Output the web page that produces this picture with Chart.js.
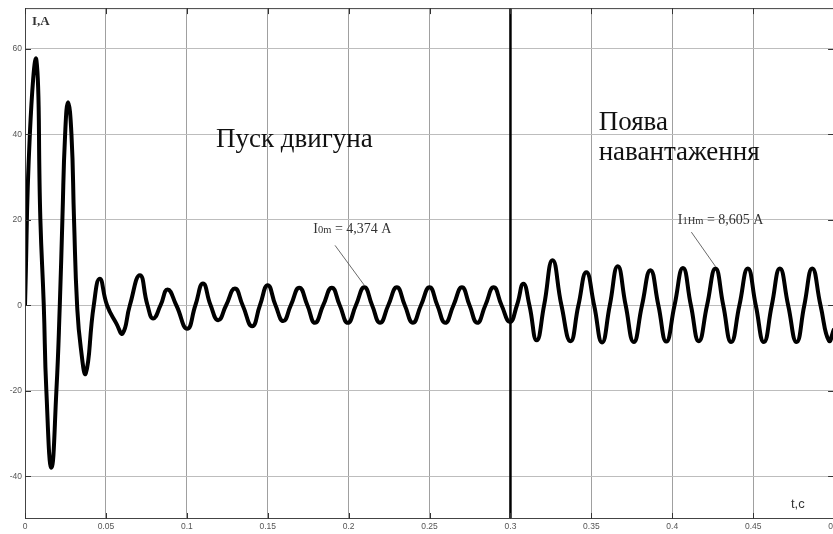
<!DOCTYPE html>
<html>
<head>
<meta charset="utf-8">
<script src="https://cdn.jsdelivr.net/npm/chart.js@4.4.1/dist/chart.umd.min.js"></script>
<style>
  html, body { margin: 0; padding: 0; background: #fff; overflow: hidden; }
  #wrap { width: 833px; height: 534px; overflow: hidden; }
</style>
</head>
<body>
<div id="wrap"><canvas id="currentChart" width="843" height="534"></canvas></div>
<script>
// time, s (peaks, troughs and zero crossings)
const times = [
  0, 0.0030, 0.0071, 0.0095, 0.0116, 0.0132, 0.0163, 0.0194, 0.0215, 0.0231, 0.0248,
  0.0266, 0.0287, 0.0303, 0.0322, 0.0345, 0.0376, 0.0425, 0.0462, 0.0507, 0.0565, 0.0603,
  0.0648, 0.0710, 0.0757, 0.0792, 0.0838, 0.0881, 0.0935, 0.1002, 0.1053, 0.1100,
  0.1147, 0.1194, 0.1243, 0.1297, 0.1345, 0.1404, 0.1452, 0.1500, 0.1548, 0.1596,
  0.1643, 0.1695, 0.1745, 0.1792, 0.1843, 0.1896, 0.1945, 0.1995, 0.2045, 0.2097,
  0.2145, 0.2194, 0.2245, 0.2298, 0.2347, 0.2397, 0.2447, 0.2500, 0.2548, 0.2597,
  0.2648, 0.2700, 0.2747, 0.2795, 0.2845, 0.2896, 0.2945, 0.2997, 0.3040, 0.3080,
  0.3117, 0.3162, 0.3208, 0.3260, 0.3315, 0.3371, 0.3420, 0.3469, 0.3517, 0.3566,
  0.3614, 0.3663, 0.3712, 0.3762, 0.3813, 0.3865, 0.3914, 0.3963, 0.4014, 0.4066,
  0.4115, 0.4164, 0.4215, 0.4267, 0.4315, 0.4364, 0.4415, 0.4467, 0.4516, 0.4566,
  0.4615, 0.4665, 0.4716, 0.4768, 0.4816, 0.4865, 0.4916, 0.4968, 0.5000
];
// current, A
const currents = [
  0, 40, 57.2, 20, 0, -20, -38.0, -20, 0, 20, 40,
  47.5, 40, 20, 0, -10, -15.9, 0, 6.2, 0, -4.3, -6.6,
  0, 7.0, 0, -3.1, 0, 3.7, 0, -5.5, 0, 5.1,
  0, -3.5, 0, 3.9, 0, -4.9, 0, 4.7, 0, -3.7,
  0, 4.1, 0, -4.1, 0, 4.1, 0, -4.1, 0, 4.2,
  0, -4.1, 0, 4.2, 0, -4.1, 0, 4.2, 0, -4.1,
  0, 4.2, 0, -4.1, 0, 4.2, 0, -3.9, 0, 5.0,
  0, -8.2, 0, 10.5, 0, -8.4, 0, 7.7, 0, -8.7,
  0, 9.1, 0, -8.6, 0, 8.2, 0, -8.5, 0, 8.7,
  0, -8.4, 0, 8.6, 0, -8.6, 0, 8.6, 0, -8.6,
  0, 8.6, 0, -8.6, 0, 8.6, 0, -8.3, -5.5
];

const xTicks = [0, 0.05, 0.1, 0.15, 0.2, 0.25, 0.3, 0.35, 0.4, 0.45, 0.5];
const xTickLabels = ['0', '0.05', '0.1', '0.15', '0.2', '0.25', '0.3', '0.35', '0.4', '0.45', '0.5'];
const yTicks = [-40, -20, 0, 20, 40, 60];
const yTickLabels = ['-40', '-20', '0', '20', '40', '60'];

const loadTime = 0.3;              // moment the load is applied
const startPeak = [0.2097, 4.2];   // I0m marked peak
const loadPeak = [0.4267, 8.6];    // I1Hm marked peak

// decorations: frame, inward ticks, load marker, captions
const decor = {
  id: 'decor',
  afterDatasetsDraw(chart) {
    const { ctx, chartArea: a, scales: { x, y } } = chart;
    ctx.save();

    // load marker
    const lx = x.getPixelForValue(loadTime);
    ctx.strokeStyle = '#000';
    ctx.lineWidth = 2.5;
    ctx.beginPath();
    ctx.moveTo(lx, a.top);
    ctx.lineTo(lx, a.bottom);
    ctx.stroke();

    // frame
    ctx.strokeStyle = '#444';
    ctx.lineWidth = 1;
    ctx.strokeRect(a.left + 0.5, a.top + 0.5, a.right - a.left - 1, a.bottom - a.top - 1);

    // inward tick marks
    ctx.strokeStyle = '#333';
    ctx.beginPath();
    xTicks.forEach(v => {
      const px = Math.round(x.getPixelForValue(v)) + 0.5;
      ctx.moveTo(px, a.top); ctx.lineTo(px, a.top + 6);
      ctx.moveTo(px, a.bottom); ctx.lineTo(px, a.bottom - 6);
    });
    yTicks.forEach(v => {
      const py = Math.round(y.getPixelForValue(v)) + 0.5;
      ctx.moveTo(a.left, py); ctx.lineTo(a.left + 6, py);
      ctx.moveTo(a.right, py); ctx.lineTo(a.right - 6, py);
    });
    ctx.stroke();

    // axis names
    ctx.fillStyle = '#333';
    ctx.textBaseline = 'alphabetic';
    ctx.font = 'bold 13px "Liberation Serif"';
    ctx.fillText('I,A', a.left + 7, a.top + 16.5);
    ctx.font = '13px "Liberation Sans"';
    ctx.fillText('t,c', 791, a.bottom - 11);

    // big captions
    ctx.fillStyle = '#111';
    ctx.font = '27px "Liberation Serif"';
    ctx.fillText('Пуск двигуна', x.getPixelForValue(0.1180), y.getPixelForValue(36.9));
    ctx.fillText('Поява', x.getPixelForValue(0.3545), y.getPixelForValue(40.9));
    ctx.fillText('навантаження', x.getPixelForValue(0.3545), y.getPixelForValue(33.9));

    // amplitude notes with leaders
    function note(main, sub, rest, t, v, lt, lv, peak) {
      let px = x.getPixelForValue(t);
      const py = y.getPixelForValue(v);
      ctx.fillStyle = '#333';
      ctx.font = '14px "Liberation Serif"';
      ctx.fillText(main, px, py);
      px += ctx.measureText(main).width;
      ctx.font = '10.5px "Liberation Serif"';
      ctx.fillText(sub, px, py);
      px += ctx.measureText(sub).width;
      ctx.font = '14px "Liberation Serif"';
      ctx.fillText(rest, px, py);
      ctx.strokeStyle = '#444';
      ctx.lineWidth = 0.8;
      ctx.beginPath();
      ctx.moveTo(x.getPixelForValue(lt), y.getPixelForValue(lv));
      ctx.lineTo(x.getPixelForValue(peak[0]), y.getPixelForValue(peak[1]) - 2);
      ctx.stroke();
    }
    note('I', '0m', ' = 4,374 A', 0.1782, 16.8, 0.1916, 14.0, startPeak);
    note('I', '1Hm', ' = 8,605 A', 0.4034, 18.9, 0.4118, 17.1, loadPeak);

    ctx.restore();
  }
};

const ctx = document.getElementById('currentChart').getContext('2d');

const currentChart = new Chart(ctx, {
  type: 'line',
  data: {
    datasets: [{
      label: 'I',
      data: times.map((t, i) => ({ x: t, y: currents[i] })),
      borderColor: '#000',
      borderWidth: 4,
      pointRadius: 0,
      tension: 0.5,
      fill: false
    }]
  },
  options: {
    responsive: false,
    animation: false,
    devicePixelRatio: 1,
    layout: { padding: { top: 7, left: 0, right: 0, bottom: 0 } },
    plugins: { legend: { display: false }, tooltip: { enabled: false } },
    scales: {
      x: {
        type: 'linear',
        min: 0,
        max: 0.5,
        afterBuildTicks: s => { s.ticks = xTicks.map(v => ({ value: v })); },
        afterFit: s => { s.height = 15; },
        ticks: {
          callback: (v, i) => xTickLabels[i],
          font: { family: 'Liberation Sans', size: 8.5 },
          color: '#555',
          padding: 3,
          maxRotation: 0,
          autoSkip: false
        },
        grid: { color: '#a0a0a0', lineWidth: 1, drawTicks: false },
        border: { display: false }
      },
      y: {
        min: -50,
        max: 69.5,
        afterBuildTicks: s => { s.ticks = yTicks.map(v => ({ value: v })); },
        afterFit: s => { s.width = 25; },
        ticks: {
          callback: (v, i) => yTickLabels[i],
          font: { family: 'Liberation Sans', size: 8.5 },
          color: '#555',
          padding: 3
        },
        grid: { color: '#bdbdbd', lineWidth: 1, drawTicks: false },
        border: { display: false }
      }
    }
  },
  plugins: [decor]
});
</script>
</body>
</html>
